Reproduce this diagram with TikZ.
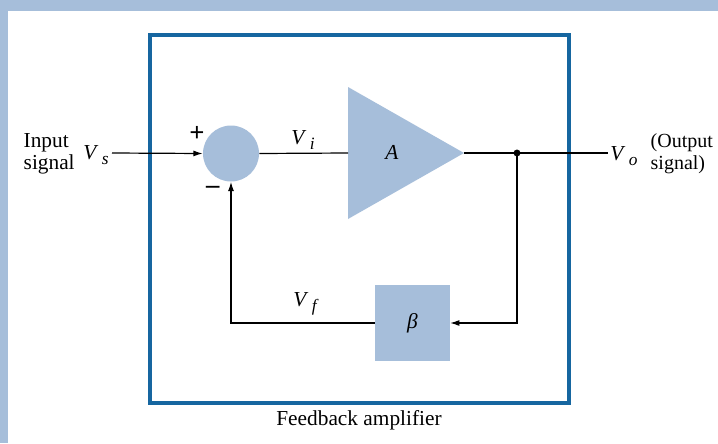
\documentclass[tikz,border=0pt]{standalone}
\usepackage{fontspec}
\setmainfont{Liberation Serif}
\usetikzlibrary{arrows.meta}
\definecolor{bandblue}{RGB}{166,190,218}
\definecolor{boxblue}{RGB}{22,102,160}
\newcommand{\sigv}[2]{\textit{#1}\,\raisebox{-0.45ex}{\fontsize{13}{13}\selectfont\textit{#2}}}

\begin{document}
\begin{tikzpicture}[x=0.75pt, y=-0.75pt, >={Latex[length=7pt,width=4.5pt]},
  every node/.style={font=\fontsize{16}{16.5}\selectfont},
  blockfill/.style={fill=bandblue, inner sep=0pt},
  wire/.style={line width=0.9pt}]
  % page and frame
  \fill[bandblue] (0,0) rectangle (718,443);
  \fill[white] (8,11) rectangle (718,443);
  \useasboundingbox (0,0) rectangle (718,443);
  \draw[boxblue, line width=2.6pt] (150,35) rectangle (569,403);

  % blocks
  \node[circle, blockfill, minimum size=42pt] (sum) at (231,153.5) {};
  \coordinate (ampin) at (348,153);
  \coordinate (amptip) at (464,153);
  \fill[bandblue] (348,87) -- (amptip) -- (348,219) -- cycle;
  \node (amp) at (392,152) {\textit{A}};
  \node[blockfill, minimum width=56pt, minimum height=57pt] (beta) at (412.5,323) {\textit{β}};

  % wires
  \coordinate (vsend) at (112,153);
  \coordinate (voend) at (608,153);
  \coordinate (tap) at (517,153);
  \draw[wire, ->] (vsend) -- (sum.west);
  \draw[wire] (sum.east) -- (ampin);
  \draw[wire] (amptip) -- (voend);
  \fill (tap) circle[radius=2.6pt];
  \draw[wire, ->] (tap) |- (beta.east);
  \draw[wire, ->] (beta.west) -| (sum.south);

  % labels
  \node[align=left, anchor=west] (insig) at (19,154) {Input\\signal};
  \node (vs) at (96,155) {\sigv{V}{s}};
  \node (plus) at (197,134) {\fontsize{20}{20}\selectfont\textbf{+}};
  \node (minus) at (213,190) {\fontsize{20}{20}\selectfont\textbf{–}};
  \node (vi) at (303,140) {\sigv{V}{i}};
  \node (vf) at (306,304) {\sigv{V}{f}};
  \node (vo) at (624,156) {\sigv{V}{o}};
  \node[align=left, anchor=west, font=\fontsize{15}{16.5}\selectfont] (outsig) at (646,154) {(Output\\signal)};
  \node (title) at (359,420) {Feedback amplifier};
\end{tikzpicture}
\end{document}
